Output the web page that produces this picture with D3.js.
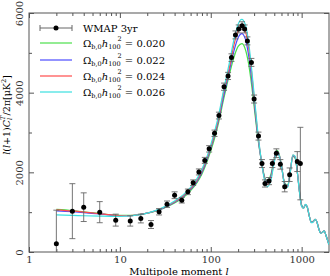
<!DOCTYPE html>
<html>
<head>
<meta charset="utf-8">
<script src="https://cdn.jsdelivr.net/npm/d3@7"></script>
<style>
  body { margin: 0; background: #fff; }
  svg text { font-family: "DejaVu Serif", "Liberation Serif", serif; }
</style>
</head>
<body>
<div id="container"></div>
<script>
// multipole grid for the model curves
var ells = [2, 3, 4, 6, 8, 10, 13, 16, 20, 25, 30, 40, 50, 60, 70, 80, 90, 100, 110, 120, 140, 160, 180, 200, 220, 240, 260, 280, 300, 330, 360, 390, 420, 460, 500, 530, 560, 600, 650, 700, 750, 800, 850, 900, 950, 1000, 1050, 1100, 1150, 1220, 1280, 1340, 1410, 1470, 1550, 1620, 1700, 1770, 1850, 2000];

// model spectra, one per baryon density
var model_020 = [1070, 1040, 1005, 965, 935, 920, 920, 940, 975, 1030, 1095, 1230, 1370, 1540, 1730, 1960, 2240, 2540, 2850, 3180, 3880, 4450, 4890, 5160, 5230, 5090, 4740, 4230, 3650, 2850, 2290, 1900, 1790, 1960, 2350, 2560, 2490, 2180, 1730, 1680, 2030, 2400, 2350, 1970, 1500, 1180, 1110, 1180, 1130, 880, 750, 770, 820, 760, 570, 480, 500, 530, 420, 180];
var model_022 = [1030, 1010, 990, 955, 925, 912, 912, 935, 975, 1035, 1100, 1250, 1400, 1570, 1760, 2000, 2290, 2600, 2920, 3250, 3960, 4540, 5050, 5380, 5480, 5350, 4960, 4400, 3770, 2900, 2290, 1870, 1740, 1910, 2320, 2530, 2470, 2170, 1715, 1660, 2020, 2410, 2370, 1970, 1490, 1165, 1105, 1185, 1135, 880, 745, 765, 820, 760, 570, 475, 500, 530, 420, 180];
var model_024 = [1060, 1030, 1000, 960, 930, 915, 915, 935, 975, 1040, 1110, 1260, 1420, 1590, 1790, 2040, 2330, 2640, 2960, 3290, 4050, 4620, 5200, 5560, 5680, 5550, 5150, 4560, 3870, 2950, 2300, 1840, 1690, 1860, 2290, 2510, 2460, 2160, 1700, 1640, 2010, 2430, 2380, 1970, 1480, 1150, 1100, 1190, 1140, 880, 740, 760, 820, 760, 570, 470, 500, 530, 420, 180];
var model_026 = [930, 920, 910, 900, 895, 895, 905, 930, 975, 1045, 1120, 1280, 1440, 1620, 1830, 2080, 2370, 2690, 3020, 3360, 4120, 4740, 5330, 5720, 5840, 5710, 5290, 4650, 3960, 3000, 2300, 1810, 1640, 1810, 2260, 2480, 2440, 2150, 1685, 1620, 2000, 2440, 2400, 1970, 1470, 1140, 1095, 1195, 1145, 880, 735, 755, 820, 760, 570, 465, 500, 530, 420, 180];

var series_labels = ["0.020", "0.022", "0.024", "0.026"];
var series_colors = ["#4be04b", "#4b4bff", "#ff4b4b", "#3ae0e0"];

// WMAP 3yr binned points
var data_l   = [2, 3, 4, 6, 9, 13, 17, 22, 27, 33, 40, 48, 56, 64, 74, 86, 96, 110, 123, 140, 155, 169, 187, 203, 221, 236, 253, 280, 300, 335, 366, 395, 438, 476, 527, 583, 651, 738, 896, 968];
var data_val = [210, 1025, 1125, 1000, 800, 780, 840, 690, 1010, 1200, 1425, 1300, 1510, 1740, 2010, 2300, 2590, 2980, 3425, 4150, 4420, 4880, 5450, 5600, 5680, 5600, 5300, 4760, 3840, 2910, 2220, 1720, 1780, 2220, 2480, 2200, 1640, 1940, 2270, 2220];
var data_err = [840, 690, 360, 265, 150, 130, 110, 100, 80, 80, 85, 70, 70, 70, 75, 75, 80, 80, 85, 90, 90, 95, 100, 100, 100, 100, 100, 100, 100, 100, 100, 90, 90, 100, 110, 120, 130, 170, 250, 910];

var x_majors = [1, 10, 100, 1000];
var x_minors = [2, 3, 4, 5, 6, 7, 8, 9, 20, 30, 40, 50, 60, 70, 80, 90, 200, 300, 400, 500, 600, 700, 800, 900];
var y_majors = [0, 2000, 4000, 6000];
var y_minors = [1000, 3000, 5000];

var width = 330, height = 276;
var left = 29, right = 329, top_y = 13, bottom = 252;
var axis_color = "#555";

var svg = d3.select("div#container")
  .append("svg")
  .attr("width", width)
  .attr("height", height);

var x = d3.scaleLog().domain([1, 2000]).range([left, right]);
var y = d3.scaleLinear().domain([0, 6000]).range([bottom, top_y]);

svg.append("clipPath").attr("id", "plot-clip")
  .append("rect")
  .attr("x", left).attr("y", top_y)
  .attr("width", right - left).attr("height", bottom - top_y);

// axes, ticks point inward on all four sides
function style_axis(g) {
  g.select(".domain").remove();
  g.selectAll("line").attr("stroke", axis_color);
  g.selectAll("text").attr("fill", "#333").style("font-size", "10px");
}

svg.append("g").attr("transform", "translate(0," + bottom + ")")
  .call(d3.axisBottom(x).tickValues(x_majors).tickSize(-5).tickPadding(4).tickFormat(d3.format("d")))
  .call(style_axis);
svg.append("g").attr("transform", "translate(0," + bottom + ")")
  .call(d3.axisBottom(x).tickValues(x_minors).tickSize(-3).tickFormat(""))
  .call(style_axis);
svg.append("g").attr("transform", "translate(0," + top_y + ")")
  .call(d3.axisTop(x).tickValues(x_majors).tickSize(-5).tickFormat(""))
  .call(style_axis);
svg.append("g").attr("transform", "translate(0," + top_y + ")")
  .call(d3.axisTop(x).tickValues(x_minors).tickSize(-3).tickFormat(""))
  .call(style_axis);

var y_left = svg.append("g").attr("transform", "translate(" + left + ",0)")
  .call(d3.axisLeft(y).tickValues(y_majors).tickSize(-5).tickFormat(d3.format("d")))
  .call(style_axis);
// y tick labels are rotated
y_left.selectAll("text")
  .attr("x", null).attr("dy", null)
  .attr("text-anchor", "middle")
  .attr("transform", "translate(-6,0) rotate(-90)")
  .attr("y", 0);
svg.append("g").attr("transform", "translate(" + left + ",0)")
  .call(d3.axisLeft(y).tickValues(y_minors).tickSize(-3).tickFormat(""))
  .call(style_axis);
svg.append("g").attr("transform", "translate(" + right + ",0)")
  .call(d3.axisRight(y).tickValues(y_majors).tickSize(-5).tickFormat(""))
  .call(style_axis);
svg.append("g").attr("transform", "translate(" + right + ",0)")
  .call(d3.axisRight(y).tickValues(y_minors).tickSize(-3).tickFormat(""))
  .call(style_axis);

svg.append("rect")
  .attr("x", left).attr("y", top_y)
  .attr("width", right - left).attr("height", bottom - top_y)
  .attr("fill", "none").attr("stroke", axis_color).attr("stroke-width", 1);

// model curves
var models = [model_020, model_022, model_024, model_026];
var line = d3.line()
  .x(function(d) { return x(d[0]); })
  .y(function(d) { return y(d[1]); })
  .curve(d3.curveMonotoneX);

var plot = svg.append("g").attr("clip-path", "url(#plot-clip)");

models.forEach(function(m, i) {
  plot.append("path")
    .datum(d3.zip(ells, m))
    .attr("d", line)
    .attr("fill", "none")
    .attr("stroke", series_colors[i])
    .attr("stroke-width", 1.2);
});

// error bars + points
var pts = d3.zip(data_l, data_val, data_err);
var cap = 3;
var eb = plot.append("g").attr("stroke", "#666").attr("stroke-width", 0.9);
pts.forEach(function(p) {
  var px = x(p[0]);
  eb.append("line").attr("x1", px).attr("x2", px)
    .attr("y1", y(p[1] - p[2])).attr("y2", y(p[1] + p[2]));
  eb.append("line").attr("x1", px - cap).attr("x2", px + cap)
    .attr("y1", y(p[1] + p[2])).attr("y2", y(p[1] + p[2]));
  eb.append("line").attr("x1", px - cap).attr("x2", px + cap)
    .attr("y1", y(p[1] - p[2])).attr("y2", y(p[1] - p[2]));
});
plot.selectAll("circle.pt").data(pts).enter().append("circle")
  .attr("class", "pt")
  .attr("cx", function(d) { return x(d[0]); })
  .attr("cy", function(d) { return y(d[1]); })
  .attr("r", 2.5)
  .attr("fill", "#000");

// legend
var lg = svg.append("g");
lg.append("line").attr("x1", 40).attr("x2", 72).attr("y1", 28).attr("y2", 28).attr("stroke", "#666");
lg.append("line").attr("x1", 40).attr("x2", 40).attr("y1", 25).attr("y2", 31).attr("stroke", "#666");
lg.append("line").attr("x1", 72).attr("x2", 72).attr("y1", 25).attr("y2", 31).attr("stroke", "#666");
lg.append("circle").attr("cx", 56).attr("cy", 28).attr("r", 2.5).attr("fill", "#000");
lg.append("text").attr("x", 83).attr("y", 32).style("font-size", "10px").text("WMAP 3yr");

var row_y = [43, 60, 76, 92];
series_labels.forEach(function(lab, i) {
  lg.append("line").attr("x1", 40).attr("x2", 72)
    .attr("y1", row_y[i]).attr("y2", row_y[i])
    .attr("stroke", series_colors[i]).attr("stroke-width", 1.2);
  var t = lg.append("text").attr("x", 83).attr("y", row_y[i] + 4).style("font-size", "10px");
  t.append("tspan").text("Ω");
  t.append("tspan").attr("dy", 2).style("font-size", "6.5px").text("b,0");
  t.append("tspan").attr("dy", -2).style("font-style", "italic").text("h");
  t.append("tspan").attr("dy", 2).style("font-size", "6.5px").text("100");
  t.append("tspan").attr("dy", -8).attr("dx", -3).style("font-size", "6.5px").text("2");
  t.append("tspan").attr("dy", 6).text(" = " + lab);
});

// axis titles
svg.append("text")
  .attr("x", (left + right) / 2).attr("y", 275)
  .attr("text-anchor", "middle")
  .style("font-size", "10px")
  .html('Multipole moment <tspan font-style="italic">l</tspan>');

var yt = svg.append("text")
  .attr("transform", "translate(10,115) rotate(-90)")
  .attr("text-anchor", "middle")
  .style("font-size", "9.5px");
yt.append("tspan").style("font-style", "italic").text("l");
yt.append("tspan").text("(");
yt.append("tspan").style("font-style", "italic").text("l");
yt.append("tspan").text("+1)");
yt.append("tspan").style("font-style", "italic").text("C");
yt.append("tspan").attr("dy", 2).style("font-size", "6.5px").style("font-style", "italic").text("l");
yt.append("tspan").attr("dy", -7).attr("dx", -2).style("font-size", "6.5px").style("font-style", "italic").text("T");
yt.append("tspan").attr("dy", 5).text("/2π[μK");
yt.append("tspan").attr("dy", -4).style("font-size", "6.5px").text("2");
yt.append("tspan").attr("dy", 4).text("]");
</script>
</body>
</html>
